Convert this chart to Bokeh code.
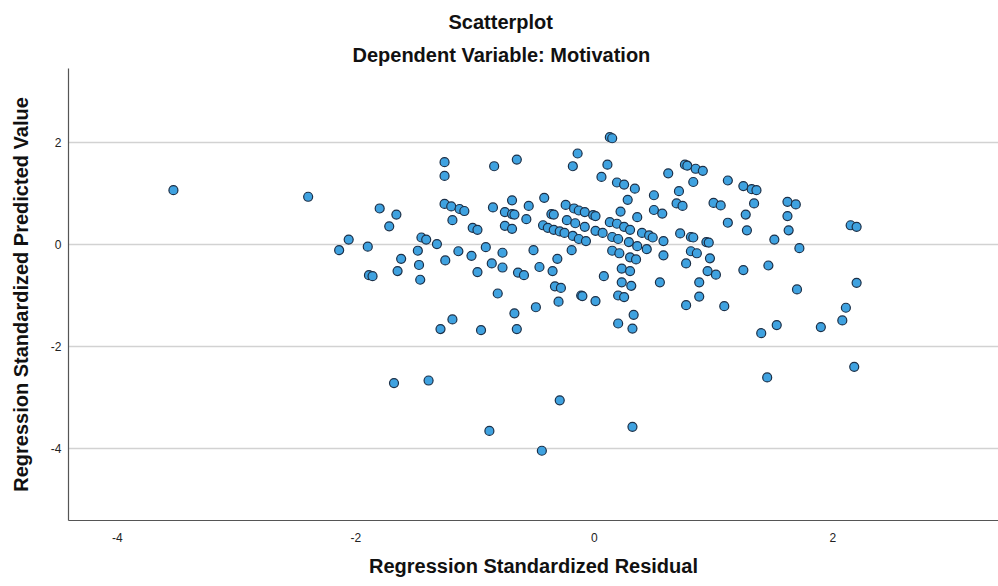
from bokeh.plotting import figure
from bokeh.models import FixedTicker, Range1d, Title, ColumnDataSource
from bokeh.embed import file_html
from bokeh.resources import INLINE

title_text = "Scatterplot"
subtitle_text = "Dependent Variable: Motivation"
x_title = "Regression Standardized Residual"
y_title = "Regression Standardized Predicted Value"
x_ticks = [-4, -2, 0, 2]
y_ticks = [2, 0, -2, -4]

resid = [
    -3.53, -2.40, -2.06, -2.14, -1.90, -1.89, -1.86, -1.80, -1.66, -1.72,
    -1.65, -1.62, -1.45, -1.41, -1.48, -1.47, -1.46, -1.32, -1.256, -1.256,
    -1.256, -1.20, -1.13, -1.09, -1.19, -1.25, -1.14, -1.03, -1.02, -0.98,
    -0.91, -0.86, -0.98, -0.81, -0.84, -0.85, -0.69, -0.75, -0.69, -0.67,
    -0.75, -0.69, -0.55, -0.57, -0.65, -0.42, -0.36, -0.34, -0.43, -0.39,
    -0.34, -0.29, -0.25, -0.24, -0.17, -0.13, -0.08, -0.01, 0.01, -0.23,
    -0.16, -0.08, -0.18, -0.13, -0.07, 0.01, 0.07, -0.14, -0.18, 0.06,
    0.13, 0.15, 0.11, 0.19, 0.25, 0.34, 0.28, 0.22, 0.36, 0.13,
    0.19, 0.25, 0.30, 0.15, 0.20, 0.29, 0.36, 0.40, 0.46, 0.49,
    0.58, 0.44, 0.15, 0.21, 0.30, 0.35, 0.50, 0.50, 0.57, 0.62,
    0.71, 0.83, 0.76, 0.78, 0.85, 0.91, 0.69, 0.74, 0.72, 0.81,
    0.83, 0.94, 0.96, 1.00, 1.06, 0.58, 0.81, 0.86, 0.77, 0.97,
    0.95, 1.02, 0.88, 0.88, 0.77, 0.55, 0.23, 0.30, 0.23, 0.31,
    0.20, 0.25, 0.08, 0.33, 0.20, 0.32, 0.01, -0.11, -0.10, -0.19,
    -0.31, -0.35, -0.46, -0.51, -0.33, -0.28, -0.30, -0.49, -0.64, -0.59,
    -0.77, -0.77, -0.67, -0.65, -0.95, -1.19, -1.29, 1.12, 1.25, 1.32,
    1.36, 1.34, 1.27, 1.12, 1.28, 1.62, 1.69, 1.62, 1.63, 1.51,
    1.72, 2.15, 2.20, 1.25, 1.46, 1.70, 2.20, 1.09, 2.11, 2.08,
    1.90, 1.53, 1.40, 1.45, 2.18, -1.68, -1.39, -0.88, -0.29, 0.32,
    -0.44,
]
predicted = [
    1.07, 0.94, 0.10, -0.11, -0.04, -0.60, -0.62, 0.71, 0.59, 0.36,
    -0.52, -0.28, 0.14, 0.10, -0.12, -0.40, -0.69, 0.01, 1.62, 1.35,
    0.80, 0.75, 0.70, 0.66, 0.48, -0.31, -0.13, -0.22, 0.33, 0.29,
    -0.05, -0.37, -0.54, -0.96, 1.54, 0.73, 0.87, 0.64, 0.60, 0.59,
    0.37, 0.31, 0.76, 0.50, 1.67, 0.92, 0.60, 0.59, 0.38, 0.33,
    0.29, 0.26, 0.23, 0.78, 0.71, 0.67, 0.64, 0.58, 0.56, 0.48,
    0.42, 0.35, 0.17, 0.11, 0.07, 0.27, 0.23, 1.79, 1.54, 1.33,
    2.11, 2.09, 1.57, 1.22, 1.18, 1.10, 0.88, 0.65, 0.54, 0.44,
    0.41, 0.35, 0.29, 0.15, 0.11, 0.05, -0.03, 0.23, 0.18, 0.14,
    0.07, -0.09, -0.12, -0.17, -0.25, -0.29, 0.97, 0.68, 0.61, 1.40,
    1.05, 1.23, 1.57, 1.55, 1.49, 1.45, 0.81, 0.76, 0.22, 0.15,
    0.14, 0.05, 0.04, 0.82, 0.77, -0.21, -0.13, -0.17, -0.37, -0.27,
    -0.52, -0.59, -0.74, -1.02, -1.19, -0.74, -0.47, -0.52, -0.74, -0.81,
    -1.00, -1.03, -0.62, -1.38, -1.55, -1.65, -1.11, -1.00, -1.01, -0.11,
    -0.28, -0.52, -0.44, -0.11, -0.82, -0.85, -1.12, -1.23, -0.55, -0.60,
    -0.45, -0.16, -1.35, -1.66, -1.68, -1.47, -1.66, 1.26, 1.15, 1.09,
    1.07, 0.81, 0.59, 0.43, 0.28, 0.84, 0.79, 0.56, 0.28, 0.10,
    -0.07, 0.38, 0.35, -0.50, -0.41, -0.88, -0.75, -1.21, -1.24, -1.49,
    -1.62, -1.58, -1.74, -2.61, -2.40, -2.72, -2.67, -3.66, -3.06, -3.58,
    -4.05,
]

FONT = "'Liberation Sans', Arial, sans-serif"

p = figure(width=998, height=586, output_backend="svg", toolbar_location=None,
           x_range=Range1d(-4.41, 3.39), y_range=Range1d(-5.42, 3.46),
           min_border_left=68, min_border_right=0, min_border_top=68,
           min_border_bottom=66)
p.outline_line_color = None
p.background_fill_color = "white"
p.border_fill_color = "white"

p.xgrid.grid_line_color = None
p.ygrid.grid_line_color = "#d2d2d2"
p.ygrid.grid_line_width = 1.5

p.xaxis.ticker = FixedTicker(ticks=x_ticks)
p.yaxis.ticker = FixedTicker(ticks=y_ticks)
p.xaxis.major_label_overrides = {t: str(t) for t in x_ticks}
p.yaxis.major_label_overrides = {t: str(t) for t in y_ticks}
for ax in (p.xaxis[0], p.yaxis[0]):
    ax.axis_line_color = "#555555"
    ax.axis_line_width = 1.2
    ax.major_tick_line_color = None
    ax.minor_tick_line_color = None
    ax.major_label_text_font = FONT
    ax.major_label_text_font_size = "12px"
    ax.major_label_text_color = "#222222"
p.xaxis.major_label_standoff = 6
p.yaxis.major_label_standoff = 1

p.yaxis.axis_label = y_title
p.yaxis.axis_label_text_font = FONT
p.yaxis.axis_label_text_font_size = "20px"
p.yaxis.axis_label_text_font_style = "bold"
p.yaxis.axis_label_text_color = "#111111"
p.yaxis.axis_label_standoff = 16

src = ColumnDataSource(dict(x=resid, y=predicted))
p.scatter("x", "y", source=src, size=9, marker="circle",
          fill_color="#3fa2e0", line_color="#1c3048", line_width=1.2)

def title(txt, side, align, offset, size, standoff):
    p.add_layout(Title(text=txt, align=align, offset=offset, text_font=FONT,
                       text_font_size=size, text_font_style="bold",
                       text_color="#111111", standoff=standoff), side)

title(subtitle_text, "above", "left", 284, "20px", 6)
title(title_text, "above", "left", 380, "20px", 12)
title(x_title, "below", "center", 0, "20px", 16)

open("out.html", "w").write(file_html(p, INLINE))
